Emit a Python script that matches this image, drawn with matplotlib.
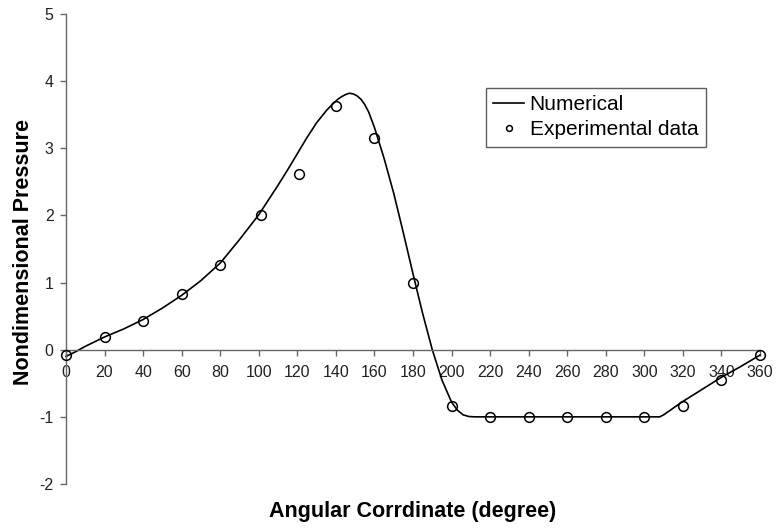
"""Pressao adimensional ao longo da coordenada angular: numerico x experimental."""

import matplotlib

matplotlib.use("Agg")
import matplotlib.pyplot as plt


# Curva numerica
angulo_numerico = [
    0, 5, 10, 15, 20, 30, 40, 50, 60, 70, 80, 90, 100, 110, 115, 120, 125,
    130, 135, 138, 141, 143, 145, 147, 149, 151, 153, 155, 157, 160, 165,
    170, 175, 180, 185, 190, 195, 200, 203, 206, 209, 212, 308, 310, 313,
    320, 330, 340, 350, 360,
]
pressao_numerica = [
    -0.10, -0.03, 0.05, 0.12, 0.19, 0.31, 0.45, 0.62, 0.81, 1.03, 1.29, 1.64,
    2.01, 2.45, 2.68, 2.92, 3.16, 3.38, 3.56, 3.65, 3.73, 3.77, 3.80, 3.82,
    3.81, 3.78, 3.73, 3.65, 3.54, 3.31, 2.85, 2.33, 1.74, 1.13, 0.54, 0.00,
    -0.45, -0.78, -0.90, -0.97, -0.995, -1.00, -1.00, -0.97, -0.91, -0.77,
    -0.59, -0.41, -0.25, -0.08,
]

# Dados experimentais
angulo_exp = [0, 20, 40, 60, 80, 101, 121, 140, 160, 180, 200, 220, 240,
              260, 280, 300, 320, 340, 360]
pressao_exp = [-0.08, 0.19, 0.43, 0.83, 1.26, 2.00, 2.62, 3.63, 3.16, 1.00,
               -0.84, -1.00, -1.00, -1.00, -1.00, -1.00, -0.84, -0.45, -0.08]

x_ticks = list(range(0, 361, 20))
y_ticks = [-2, -1, 0, 1, 2, 3, 4, 5]

COR_EIXO = "#666666"


def main() -> None:
    plt.rcParams["font.family"] = ["Liberation Sans", "DejaVu Sans"]
    plt.rcParams["axes.unicode_minus"] = False

    fig = plt.figure(figsize=(7.76, 5.30), dpi=100)
    ax = fig.add_axes([66 / 776, 1 - 484 / 530, 694 / 776, 470 / 530])

    ax.plot(angulo_numerico, pressao_numerica, color="black", linewidth=1.2,
            label="Numerical", clip_on=False, zorder=2)
    ax.plot(angulo_exp, pressao_exp, linestyle="none", marker="o",
            markersize=7, markerfacecolor="none", markeredgecolor="black",
            markeredgewidth=1.1, label="Experimental data", clip_on=False,
            zorder=3)

    ax.set_xlim(0, 360)
    ax.set_ylim(-2, 5)
    ax.set_xticks(x_ticks)
    ax.set_yticks(y_ticks)

    # eixo x cruzando em zero, estilo Excel
    ax.spines["bottom"].set_position(("data", 0))
    ax.spines["top"].set_visible(False)
    ax.spines["right"].set_visible(False)
    for lado in ("bottom", "left"):
        ax.spines[lado].set_color(COR_EIXO)
        ax.spines[lado].set_linewidth(1.0)

    ax.tick_params(axis="both", direction="out", length=4, width=1.0,
                   color=COR_EIXO, labelsize=11.5, labelcolor="#222222")
    ax.tick_params(axis="y", pad=5)
    ax.tick_params(axis="x", pad=7)

    fig.text(413 / 776, 1 - 512 / 530, "Angular Corrdinate (degree)",
             ha="center", va="center", fontsize=15.5, fontweight="bold")
    fig.text(24 / 776, 1 - 252 / 530, "Nondimensional Pressure",
             ha="center", va="center", rotation=90, fontsize=15.5,
             fontweight="bold")

    legenda = ax.legend(loc="upper left", bbox_to_anchor=(0.605, 0.843),
                        borderaxespad=0, fontsize=15, frameon=True,
                        fancybox=False, handlelength=1.5, handletextpad=0.25,
                        markerscale=0.6, borderpad=0.35, labelspacing=0.3)
    legenda.get_frame().set_edgecolor("#333333")
    legenda.get_frame().set_linewidth(1.0)

    fig.savefig("out.png", dpi=100, facecolor="white")
    plt.close(fig)


if __name__ == "__main__":
    main()
